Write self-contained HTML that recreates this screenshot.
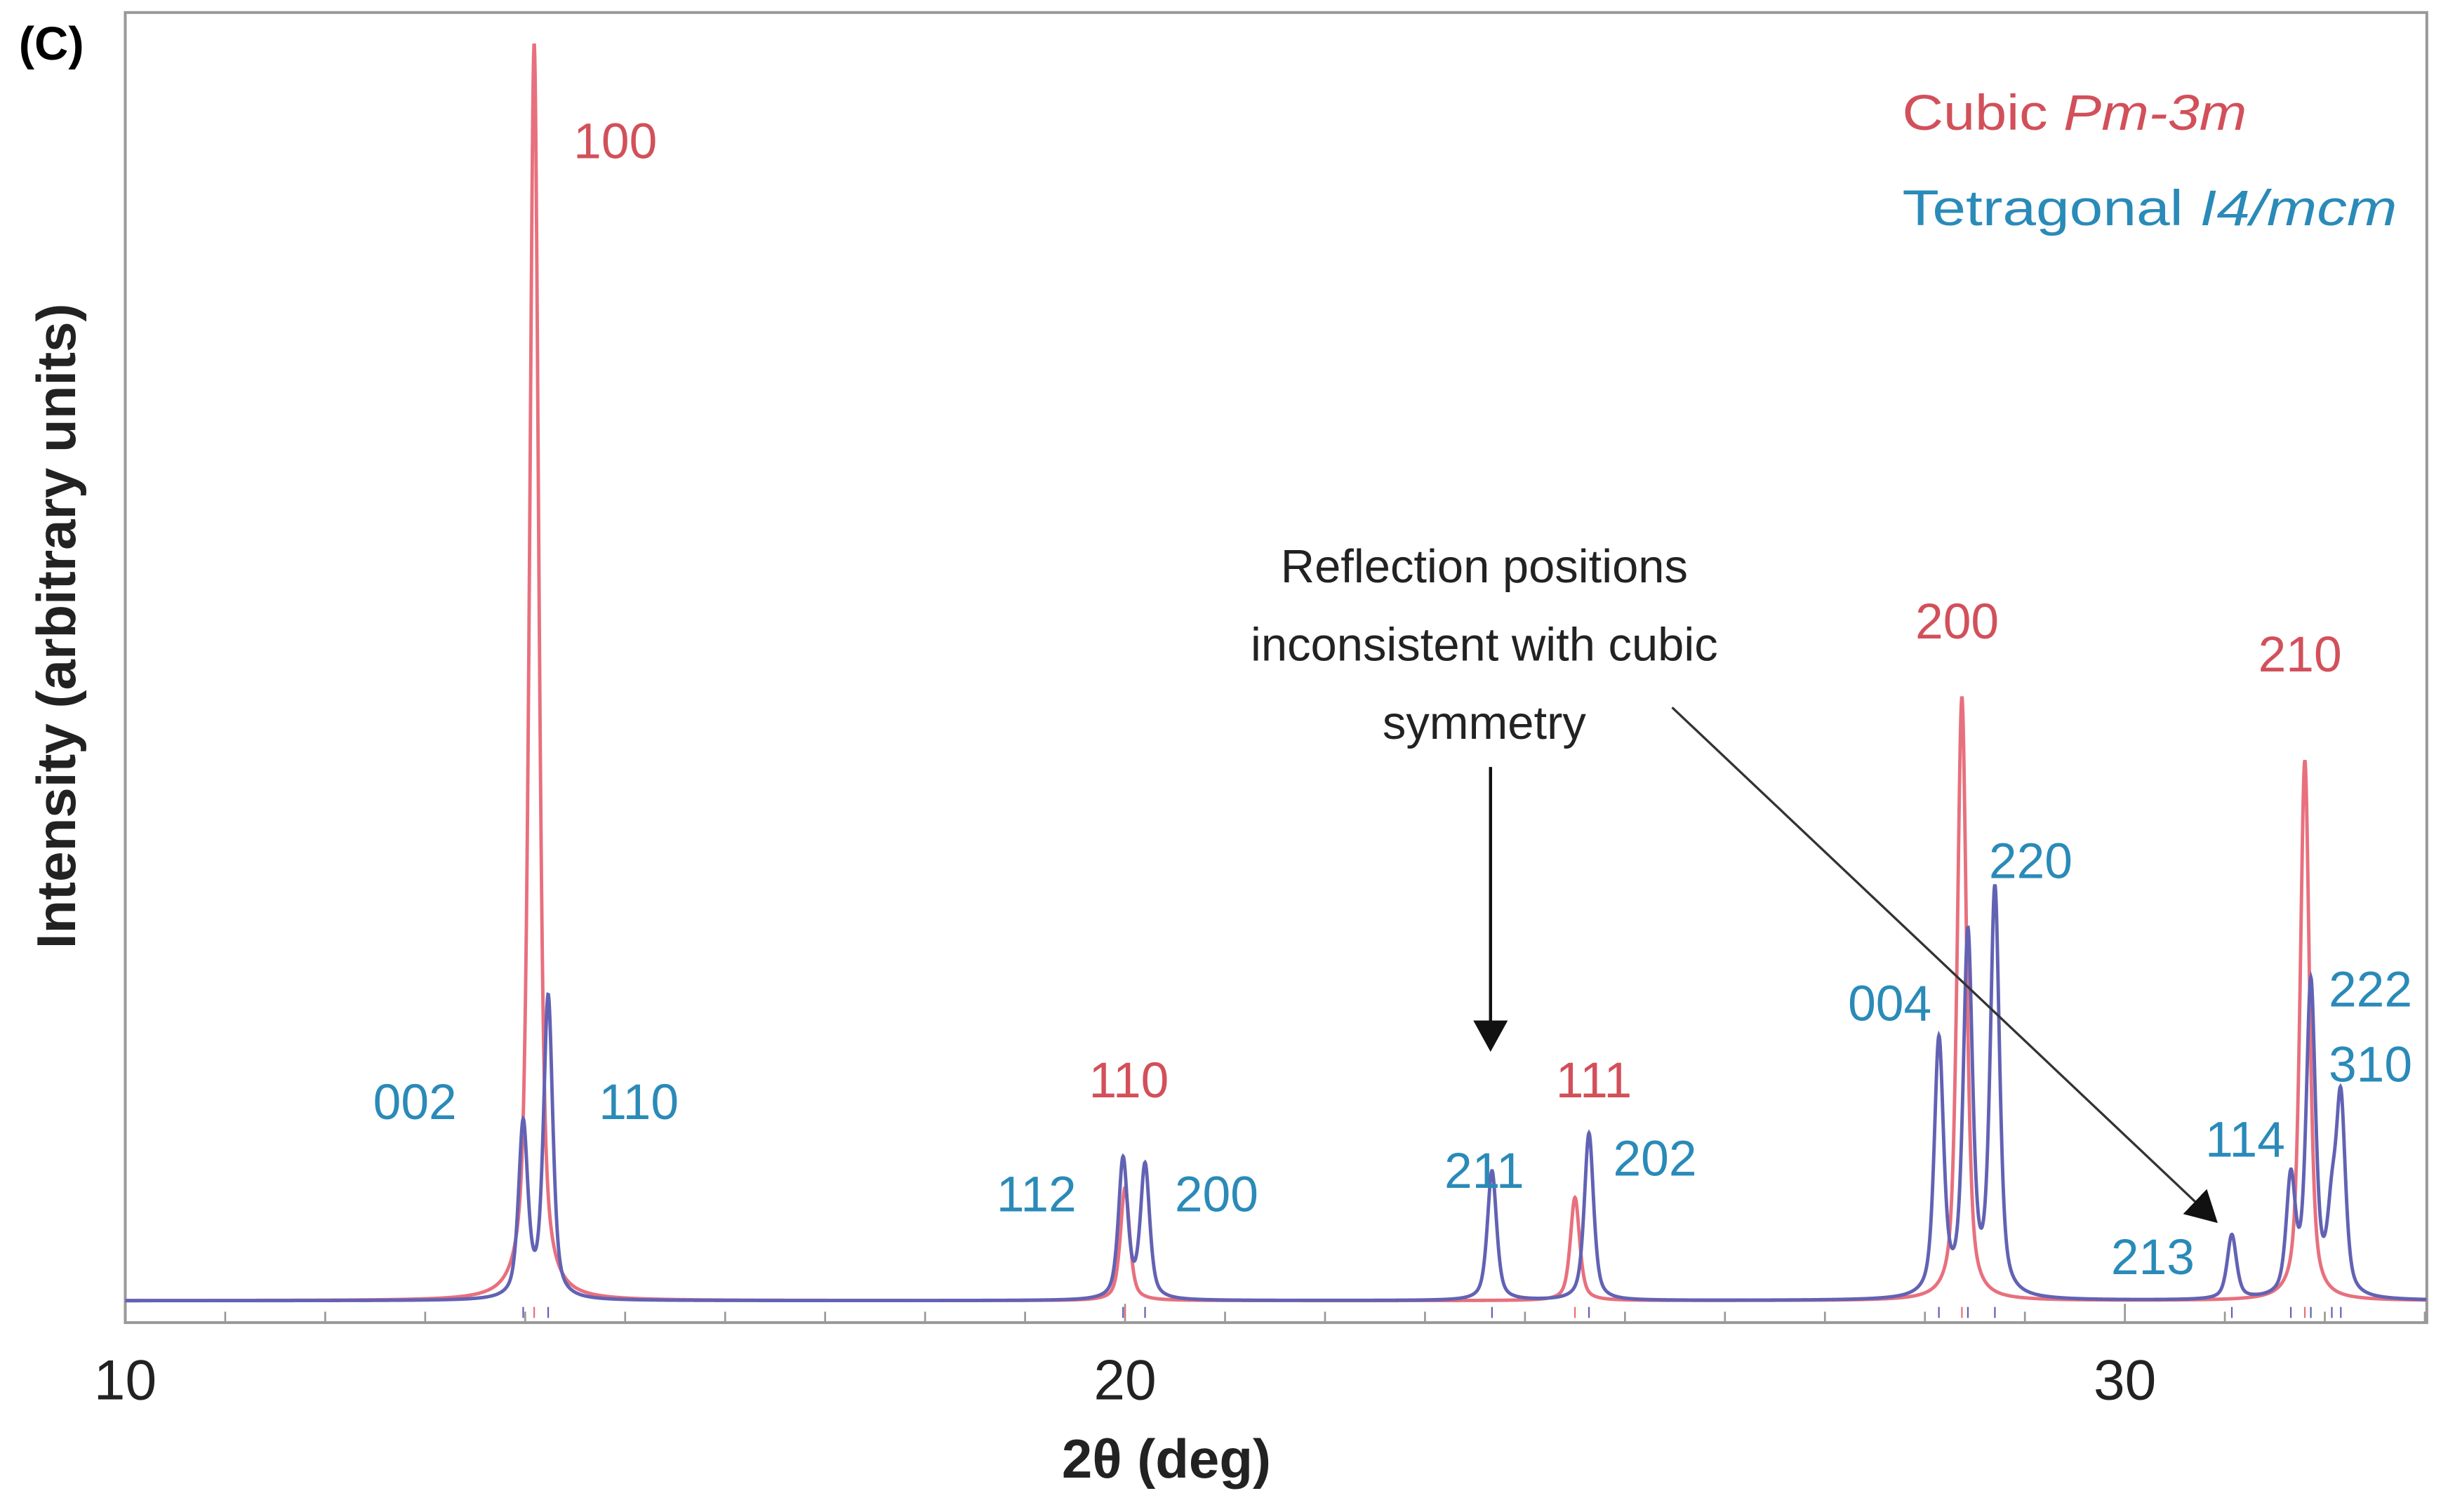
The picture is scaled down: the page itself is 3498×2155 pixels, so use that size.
<!DOCTYPE html>
<html><head><meta charset="utf-8"><style>
html,body{margin:0;padding:0;background:#fff}
svg{display:block}
text{font-family:"Liberation Sans",sans-serif}
</style></head><body>
<svg id="chart" width="3498" height="2155" viewBox="0 0 1568 966" preserveAspectRatio="none" xmlns="http://www.w3.org/2000/svg">
<defs><marker id="ah2" markerWidth="20" markerHeight="22" refX="18" refY="11" orient="auto" markerUnits="userSpaceOnUse"><path d="M0,0 L20,11 L0,22 z" fill="#111"/></marker></defs>
<rect x="80" y="8" width="1470" height="837" fill="none" stroke="#999" stroke-width="1.8"/>
<g id="xticks"></g>
<g id="traces"></g>
<g id="refl"></g>
<text x="12" y="38" font-size="30" font-weight="bold">(C)</text>
<text transform="translate(48,400) rotate(-90)" text-anchor="middle" font-size="35" font-weight="bold" fill="#222">Intensity (arbitrary units)</text>
<text x="745" y="944" text-anchor="middle" font-size="35" font-weight="bold" fill="#222">2θ (deg)</text>
<g id="xlabels" font-size="36" fill="#222"></g>
<text x="1215" y="83" font-size="32" fill="#d2505a" textLength="220" lengthAdjust="spacingAndGlyphs">Cubic <tspan font-style="italic">Pm-3m</tspan></text>
<text x="1215" y="144" font-size="32" fill="#2a8ab8" textLength="316" lengthAdjust="spacingAndGlyphs">Tetragonal <tspan font-style="italic">I4/mcm</tspan></text>
<g font-size="30" fill="#222" text-anchor="middle">
<text x="948" y="372">Reflection positions</text>
<text x="948" y="422">inconsistent with cubic</text>
<text x="948" y="472">symmetry</text>
</g>
<line x1="952" y1="490" x2="952" y2="670" stroke="#111" stroke-width="2" marker-end="url(#ah2)"/>
<line x1="1068" y1="452" x2="1415" y2="780" stroke="#333" stroke-width="1.5" marker-end="url(#ah2)"/>
<g id="plabels" font-size="32"></g>
</svg>
<script>
const xTicks=[10,20,30];
const cubicPos=[14.09,20.0,24.50,28.37,31.80];
const cubicInt=[100,9,8.2,48,43];
const tetPos=[13.98,14.23,19.98,20.20,23.67,24.64,28.14,28.43,28.70,31.07,31.66,31.86,32.07,32.16];
const tetInt=[13.8,24,11.1,10.6,10.3,13.3,20.3,28.5,32.3,5.1,9.2,24.8,5.7,15.1];
const cubicLabels=[["100",90],["110",690],["111",690],["200",397],["210",418]];
const cubicLabelX=[393,721,1018,1250,1469];
const tetLabels=["002","110","112","200","211","202","004","220","213","114","222","310"];
const tetLabelXY=[[265,704],[408,704],[662,763],[777,763],[948,748],[1057,740],[1207,641],[1297,550],[1375,803],[1434,728],[1514,632],[1514,680]];
const NS='http://www.w3.org/2000/svg';
const x0=10,x1=33.02,px0=80,px1=1550,base=831,yScale=8.03;
const X=v=>px0+(v-x0)/(x1-x0)*(px1-px0);
const Y=v=>base-v*yScale;
function prof(pos,ints,t){let s=0;const w=0.055;for(let i=0;i<pos.length;i++){const d=(t-pos[i])/w;s+=ints[i]*(0.6/(1+d*d)+0.4*Math.exp(-0.693*d*d));}return s;}
function trace(pos,ints,col,name){let d='';for(let t=x0;t<=x1;t+=0.004){d+=(d?'L':'M')+X(t).toFixed(2)+','+Y(prof(pos,ints,t)).toFixed(2);}
const p=document.createElementNS(NS,'path');p.setAttribute('d',d);p.setAttribute('fill','none');p.setAttribute('stroke',col);p.setAttribute('stroke-width','2.2');


document.getElementById('traces').appendChild(p);}
trace(cubicPos,cubicInt,'#e8707e','cubic-trace');
trace(tetPos,tetInt,'#6262b4','tetragonal-trace');
const rg=document.getElementById('refl');
cubicPos.concat(tetPos).forEach((v,i)=>{const l=document.createElementNS(NS,'line');l.setAttribute('x1',X(v));l.setAttribute('x2',X(v));l.setAttribute('y1',835);l.setAttribute('y2',842);l.setAttribute('stroke',i<cubicPos.length?'#e8707e':'#6262b4');l.setAttribute('stroke-width','1');


rg.appendChild(l);});
const tg=document.getElementById('xticks');
for(let v=10;v<=33;v++){const l=document.createElementNS(NS,'line');const maj=v%10===0;l.setAttribute('x1',X(v));l.setAttribute('x2',X(v));l.setAttribute('y1',845);l.setAttribute('y2',maj?833:838);l.setAttribute('stroke','#999');l.setAttribute('stroke-width','1.2');


tg.appendChild(l);}
const xl=document.getElementById('xlabels');
xTicks.forEach(v=>{const t=document.createElementNS(NS,'text');t.setAttribute('x',X(v));t.setAttribute('y',894);t.setAttribute('text-anchor','middle');t.textContent=v;


xl.appendChild(t);});
const pl=document.getElementById('plabels');
cubicLabels.forEach((c,i)=>{const t=document.createElementNS(NS,'text');t.setAttribute('x',cubicLabelX[i]);t.setAttribute('y',c[1]+11);t.setAttribute('text-anchor','middle');t.setAttribute('fill','#d2505a');t.textContent=c[0];


pl.appendChild(t);});
tetLabels.forEach((s,i)=>{const t=document.createElementNS(NS,'text');t.setAttribute('x',tetLabelXY[i][0]);t.setAttribute('y',tetLabelXY[i][1]+11);t.setAttribute('text-anchor','middle');t.setAttribute('fill','#2a8ab8');t.textContent=s;


pl.appendChild(t);});
</script>
</body></html>
